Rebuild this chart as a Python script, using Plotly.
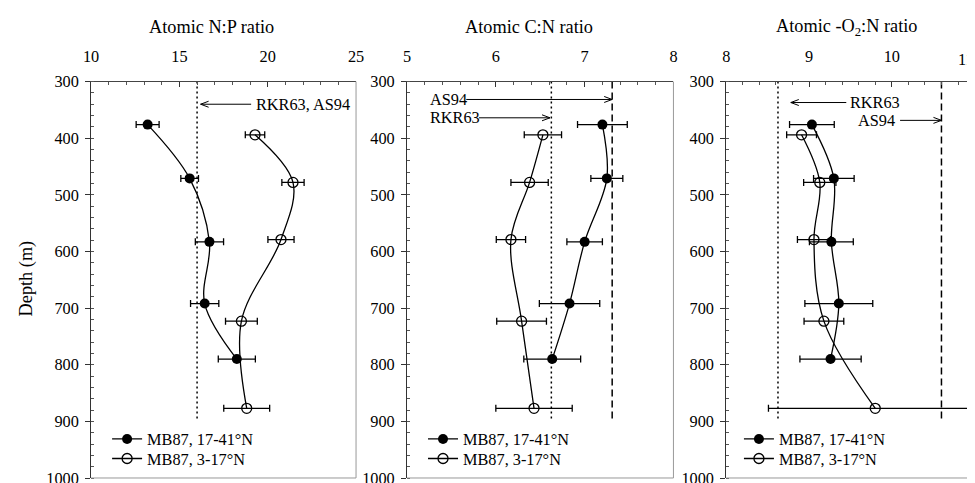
import plotly.graph_objects as go

W, H = 975, 483
FONT = "Liberation Serif, Times New Roman, DejaVu Serif, serif"

# ---------------- data ----------------
depth_north = [376, 471, 583, 692, 790]   # MB87, 17-41°N
depth_south = [394, 478, 579, 723, 877]   # MB87, 3-17°N

np_north = [13.2, 15.58, 16.7, 16.43, 18.25]
np_north_err = [0.65, 0.5, 0.8, 0.8, 1.05]
np_south = [19.28, 21.43, 20.75, 18.51, 18.81]
np_south_err = [0.55, 0.63, 0.74, 0.9, 1.3]

cn_north = [7.2, 7.25, 7.0, 6.83, 6.635]
cn_north_err = [0.28, 0.18, 0.2, 0.34, 0.32]
cn_south = [6.53, 6.38, 6.17, 6.29, 6.43]
cn_south_err = [0.21, 0.21, 0.165, 0.28, 0.43]

on_north = [9.035, 9.30, 9.27, 9.36, 9.26]
on_north_err = [0.27, 0.245, 0.265, 0.41, 0.37]
on_south = [8.91, 9.13, 9.06, 9.18, 9.80]
on_south_err = [0.18, 0.195, 0.2, 0.24, 1.29]

# reference ratios
np_ref = 16.0            # RKR63, AS94
cn_rkr, cn_as = 6.625, 7.31
on_rkr, on_as = 8.625, 10.6
ref_depth_dot = [300, 895]
ref_depth_dash = [300, 900]

titles = ["Atomic N:P ratio", "Atomic C:N ratio", "Atomic -O<sub>2</sub>:N ratio"]
names = ["MB87, 17-41°N", "MB87, 3-17°N"]
x_ticks = [[10, 15, 20, 25], [5, 6, 7, 8], [8, 9, 10, 11]]
x_ticktext = [["10", "15", "20", "25"], ["5", "6", "7", "8"], ["8", "9", "10", ""]]
edge_label = "11"

# ---------------- layout geometry ----------------
# the page has an 8px body margin and is scaled to fit the 975px window
S = W / (W + 16.0)
BM = 8.0

def px(X):   # target picture pixel -> paper x fraction
    return (X / S - BM) / W

def py(Y):   # target picture pixel -> paper y fraction
    return 1 - (Y / S - BM) / H

def fs(v):   # compensate font sizes for the scaling
    return round(v / S, 1)

ydom = [py(480), py(74)]
xdoms = [[px(83), px(348)], [px(399), px(665.5)], [px(718.3), 1.0]]
right_edge_px = S * (W + BM)
xranges = [[10, 25], [5, 8], [8, 8 + (right_edge_px - 718.3) / 82.8]]
xminor = [1, 0.2, 0.2]
legend_x = [99, 415, 731]
legend_top = [422.5, 442.5]

fig = go.Figure()

panels = [
    (np_north, np_north_err, np_south, np_south_err),
    (cn_north, cn_north_err, cn_south, cn_south_err),
    (on_north, on_north_err, on_south, on_south_err),
]

for i, (xn, en, xs, es) in enumerate(panels):
    sfx = "" if i == 0 else str(i + 1)
    xa, ya = "x" + sfx, "y" + sfx
    leg_a = "legend" + ("" if i == 0 else str(2 * i + 1))
    leg_b = "legend" + str(2 * i + 2)
    fig.add_trace(go.Scatter(
        x=xn, y=depth_north, mode="lines+markers", name=names[0],
        line=dict(color="black", width=1.3, shape="spline", smoothing=1),
        marker=dict(symbol="circle", size=10, color="black"),
        error_x=dict(type="data", array=en, visible=True, color="black",
                     thickness=1.3, width=3.5),
        xaxis=xa, yaxis=ya, legend=leg_a))
    fig.add_trace(go.Scatter(
        x=xs, y=depth_south, mode="lines+markers", name=names[1],
        line=dict(color="black", width=1.3, shape="spline", smoothing=1),
        marker=dict(symbol="circle-open", size=10, color="black",
                    line=dict(width=1.3)),
        error_x=dict(type="data", array=es, visible=True, color="black",
                     thickness=1.3, width=3.5),
        xaxis=xa, yaxis=ya, legend=leg_b))

# reference lines
def vline(x, yy, dash, xa, ya):
    fig.add_trace(go.Scatter(x=[x, x], y=yy, mode="lines", showlegend=False,
                             line=dict(color="black", width=1.5, dash=dash),
                             hoverinfo="skip", xaxis=xa, yaxis=ya))

DOT = "2px,3px"
DASH = "7px,4px"
vline(np_ref, ref_depth_dot, DOT, "x", "y")
vline(cn_rkr, ref_depth_dot, DOT, "x2", "y2")
vline(cn_as, ref_depth_dash, DASH, "x2", "y2")
vline(on_rkr, ref_depth_dot, DOT, "x3", "y3")
vline(on_as, ref_depth_dash, DASH, "x3", "y3")

# axes
for i in range(3):
    sfx = "" if i == 0 else str(i + 1)
    fig.update_layout(**{
        "xaxis" + sfx: dict(
            domain=xdoms[i], range=xranges[i], side="top",
            anchor="y" + sfx, tickmode="array", tickvals=x_ticks[i],
            ticktext=x_ticktext[i],
            ticks="inside", ticklen=5, tickcolor="#333", tickwidth=1,
            minor=dict(dtick=xminor[i], tick0=x_ticks[i][0], ticks="inside",
                       ticklen=3, tickcolor="#555", tickwidth=1, showgrid=False),
            showline=True, linecolor="#444", linewidth=1,
            showgrid=False, zeroline=False, ticklabeloverflow="allow",
            tickfont=dict(family=FONT, size=fs(16), color="black"),
            ticklabelstandoff=12),
        "yaxis" + sfx: dict(
            domain=ydom, range=[1000, 300], anchor="x" + sfx,
            tick0=300, dtick=100,
            ticks="outside", ticklen=5, tickcolor="#333", tickwidth=1,
            minor=dict(dtick=20, ticks="inside", ticklen=3,
                       tickcolor="#555", tickwidth=1, showgrid=False),
            showline=True, linecolor="#333", linewidth=1,
            showgrid=False, zeroline=False, ticklabeloverflow="allow",
            tickfont=dict(family=FONT, size=fs(16), color="black"),
            ticklabelstandoff=3),
    })

shapes = []
# right / bottom frame lines (light gray)
for i in range(3):
    sfx = "" if i == 0 else str(i + 1)
    shapes.append(dict(type="line", xref="x" + sfx + " domain", yref="y" + sfx + " domain",
                       x0=0, x1=1, y0=0, y1=0, line=dict(color="#999", width=1)))
    if i < 2:
        shapes.append(dict(type="line", xref="x" + sfx + " domain", yref="y" + sfx + " domain",
                           x0=1, x1=1, y0=0, y1=1, line=dict(color="#999", width=1)))

annotations = []

def arrow(xa, ya, x_tail, x_head, y, label, anchor, x_text):
    shapes.append(dict(type="line", xref=xa, yref=ya, x0=x_tail, x1=x_head,
                       y0=y, y1=y, line=dict(color="black", width=1)))
    d = 1 if x_head < x_tail else -1
    shapes.append(dict(type="path", xref=xa, yref=ya, xsizemode="pixel",
                       ysizemode="pixel", xanchor=x_head, yanchor=y,
                       path=f"M{8*d},3 L0,0 L{8*d},-3",
                       line=dict(color="black", width=1)))
    annotations.append(dict(xref=xa, yref=ya, x=x_text, y=y, text=label,
                            showarrow=False, xanchor=anchor, yanchor="middle",
                            borderpad=0,
                            font=dict(family=FONT, size=fs(16), color="black")))

arrow("x", "y", 19.06, 16.2, 340, "RKR63, AS94", "left", 19.27)
arrow("x2", "y2", 5.667, 7.31, 331.6, "AS94", "left", 5.244)
arrow("x2", "y2", 5.81, 6.61, 364, "RKR63", "left", 5.244)
arrow("x3", "y3", 9.45, 8.78, 337.0, "RKR63", "left", 9.48)
arrow("x3", "y3", 10.10, 10.6, 368.5, "AS94", "right", 10.05)

# last tick label of the right panel sits on the picture edge: keep it visible
annotations.append(dict(xref="paper", yref="paper", x=1.0, y=py(51), text=edge_label,
                        showarrow=False, xanchor="right", yanchor="middle",
                        borderpad=0,
                        font=dict(family=FONT, size=fs(16), color="black")))

for t, xc in zip(titles, [203.7, 521, 839]):
    annotations.append(dict(xref="paper", yref="paper", x=px(xc), y=py(18.5),
                            text=t, showarrow=False, xanchor="center",
                            yanchor="middle",
                            font=dict(family=FONT, size=fs(18), color="black")))
annotations.append(dict(xref="paper", yref="paper", x=px(18.5), y=py(276),
                        text="Depth (m)", showarrow=False, textangle=-90,
                        xanchor="center", yanchor="middle",
                        font=dict(family=FONT, size=fs(18), color="black")))

legend_common = dict(xanchor="left", yanchor="top", bgcolor="rgba(0,0,0,0)",
                     font=dict(family=FONT, size=fs(16), color="black"),
                     borderwidth=0, tracegroupgap=0)
legends = {}
for i in range(3):
    for j in range(2):
        k = 2 * i + j + 1
        key = "legend" if k == 1 else "legend" + str(k)
        legends[key] = dict(x=px(legend_x[i]), y=py(legend_top[j]), **legend_common)

fig.update_layout(
    width=W, height=H, margin=dict(l=0, r=0, t=0, b=0),
    paper_bgcolor="white", plot_bgcolor="white",
    shapes=shapes, annotations=annotations, showlegend=True,
    **legends,
)

fig.write_html("out.html", config={"displayModeBar": False})
